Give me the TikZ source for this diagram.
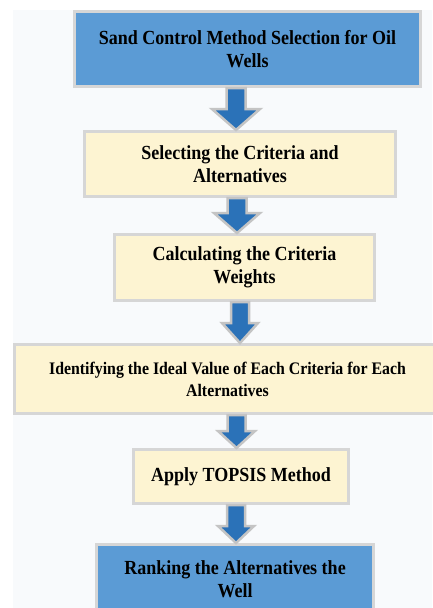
\documentclass[tikz,border=0pt]{standalone}
\usepackage{fontspec}
\setmainfont{Liberation Serif}[FakeStretch=0.9]
\usetikzlibrary{calc}
\definecolor{boxblue}{HTML}{5B9BD5}
\definecolor{boxyellow}{HTML}{FDF4D2}
\definecolor{boxedge}{HTML}{D6D6D6}
\definecolor{arrblue}{HTML}{2B72B8}
\definecolor{arredge}{HTML}{C4C4C4}
\definecolor{pagebg}{HTML}{F8FAFC}
\tikzset{
  stepbox/.style={draw=boxedge, line width=3pt, align=center, inner sep=0pt,
    font=\bfseries\fontsize{20}{23.5}\selectfont, text=black},
  bluebox/.style={stepbox, fill=boxblue},
  yellowbox/.style={stepbox, fill=boxyellow},
  blockarrow/.style={fill=arrblue, draw=arredge, line width=2.5pt, line join=miter},
}
% #1 top point, #2 tip point, #3 shaft half width, #4 head half width, #5 head length
\newcommand\blkarrow[5]{%
  \path[blockarrow] let \p1=(#1), \p2=(#2) in
    (\x1-#3,\y1) -- (\x1+#3,\y1) -- (\x1+#3,\y2+#5) -- (\x1+#4,\y2+#5) --
    (\x1,\y2) -- (\x1-#4,\y2+#5) -- (\x1-#3,\y2+#5) -- cycle;}
\begin{document}
\begin{tikzpicture}[x=1pt,y=-1pt]
\useasboundingbox (0,0) rectangle (432,608);
\fill[white] (0,0) rectangle (432,608);
\fill[pagebg] (13,10) rectangle (432,608);

\node[bluebox, minimum width=346pt, minimum height=75pt] (b1) at (247.5,49)
  {Sand Control Method Selection for Oil\\Wells};
\node[yellowbox, minimum width=311pt, minimum height=65pt] (b2) at (240,164)
  {Selecting the Criteria and\\Alternatives};
\node[yellowbox, minimum width=260pt, minimum height=66pt] (b3) at (244.5,267.5)
  {Calculating the Criteria\\Weights};
\node[yellowbox, minimum width=426pt, minimum height=69pt,
  font=\bfseries\fontsize{17.6}{22}\selectfont] (b4) at (227.5,379)
  {Identifying the Ideal Value of Each Criteria for Each\\Alternatives};
\node[yellowbox, minimum width=215pt, minimum height=54pt] (b5) at (241,476.5)
  {Apply TOPSIS Method};
\node[bluebox, minimum width=277pt, minimum height=69pt] (b6) at (235,579)
  {Ranking the Alternatives the\\Well};

\coordinate (a1s) at (b1.south -| 236,0);
\coordinate (a1e) at (b2.north -| 236,0);
\coordinate (a2s) at (b2.south -| 237,0);
\coordinate (a2e) at (b3.north -| 237,0);
\coordinate (a3s) at (b3.south -| 240,0);
\coordinate (a3e) at (b4.north -| 240,0);
\coordinate (a4s) at (b4.south -| 236.5,0);
\coordinate (a4e) at (b5.north -| 236.5,0);
\coordinate (a5s) at (b5.south -| 236,0);
\coordinate (a5e) at (b6.north -| 236,0);

\blkarrow{a1s}{a1e}{9.5pt}{24pt}{21pt}
\blkarrow{a2s}{a2e}{9.5pt}{23pt}{20pt}
\blkarrow{a3s}{a3e}{9pt}{18pt}{20pt}
\blkarrow{a4s}{a4e}{9pt}{18.5pt}{17pt}
\blkarrow{a5s}{a5e}{9pt}{18pt}{17pt}
\end{tikzpicture}
\end{document}
